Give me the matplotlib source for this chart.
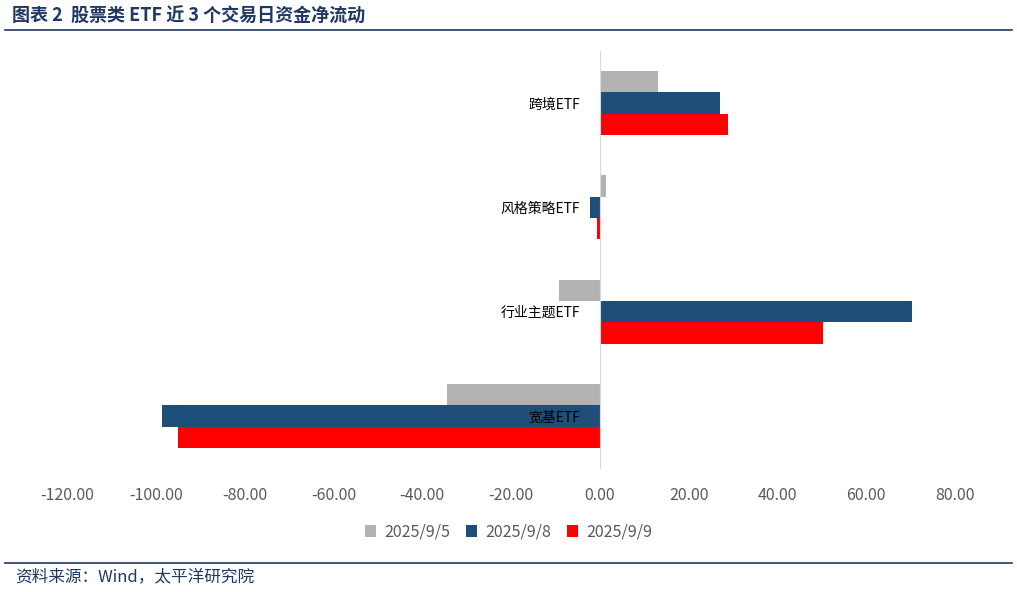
import matplotlib.pyplot as plt
import numpy as np

plt.rcParams['font.family'] = ['Noto Sans CJK SC', 'DejaVu Sans']

categories = ["跨境ETF", "风格策略ETF", "行业主题ETF", "宽基ETF"]
series_names = ["2025/9/5", "2025/9/8", "2025/9/9"]
vals_0905 = [13.1, 1.4, -9.2, -34.5]
vals_0908 = [27.0, -2.3, 70.3, -98.6]
vals_0909 = [28.8, -0.7, 50.2, -95.0]
colors = ['#b2b2b2', '#1f4e79', '#ff0000']

fig = plt.figure(figsize=(10.17, 5.92), dpi=100)
ax = fig.add_axes([67 / 1017, 1 - 468 / 592, 888 / 1017, 417 / 592])

y = np.arange(len(categories))
h = 0.205
for i, (name, vals) in enumerate(zip(series_names, [vals_0905, vals_0908, vals_0909])):
    ax.barh(y + (i - 1) * h, vals, h, color=colors[i], label=name)

ax.set_xlim(-120, 80)
ax.set_ylim(len(categories) - 0.5, -0.5)
ax.set_xticks(np.arange(-120, 81, 20))
ax.set_xticklabels([f"{v:.2f}" for v in np.arange(-120, 81, 20)], fontsize=11.5, color='#595959')
ax.set_yticks(y)
ax.set_yticklabels(categories, fontsize=12, color='#595959')
ax.spines['left'].set_position(('data', 0))
ax.spines['left'].set_color('#d9d9d9')
for s in ['top', 'right', 'bottom']:
    ax.spines[s].set_visible(False)
ax.tick_params(axis='both', length=0)
ax.tick_params(axis='x', pad=14)
ax.tick_params(axis='y', pad=14)

fig.legend(loc='center', bbox_to_anchor=(0.5, 1 - 532 / 592), ncol=3, frameon=False,
           fontsize=11.5, handlelength=0.7, handleheight=0.7, columnspacing=1.0,
           handletextpad=0.5, labelcolor='#595959')

fig.text(12 / 1017, 1 - 16 / 592, "图表 2  股票类 ETF 近 3 个交易日资金净流动", fontsize=13,
         fontweight='bold', color='#1f3864', va='center')
fig.add_artist(plt.Line2D([5 / 1017, 1012 / 1017], [1 - 30 / 592] * 2, color='#1f3864', lw=1.2))
fig.add_artist(plt.Line2D([5 / 1017, 1012 / 1017], [1 - 563 / 592] * 2, color='#1f3864', lw=1.2))
fig.text(15 / 1017, 1 - 577 / 592, "资料来源：Wind，太平洋研究院", fontsize=12,
         color='#1f3864', va='center')

fig.savefig("out.png", dpi=100)
